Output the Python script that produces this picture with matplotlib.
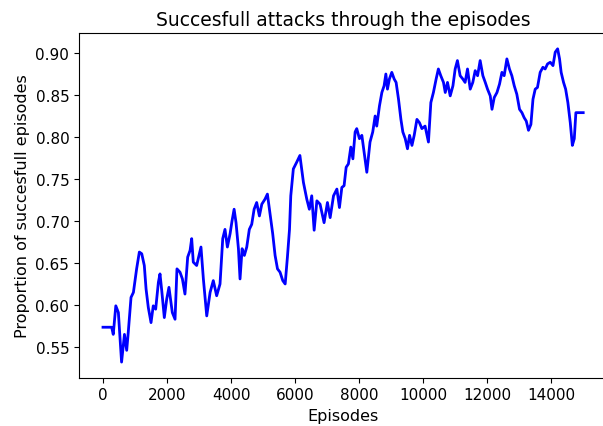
import matplotlib
matplotlib.use("Agg")
import matplotlib.pyplot as plt

# episode positions and rolling success rate
episodes = [0, 270, 320, 400, 480, 580, 670, 740, 790, 875, 950, 1050, 1135, 1210,
            1290, 1345, 1415, 1500, 1570, 1645, 1730, 1780, 1835, 1915, 1990, 2060,
            2165, 2250, 2310, 2405, 2480, 2560, 2645, 2720, 2770, 2820, 2925, 3000,
            3060, 3135, 3240, 3345, 3445, 3550, 3655, 3740, 3810, 3885, 3970, 4030,
            4095, 4155, 4230, 4280, 4345, 4415, 4490, 4570, 4645, 4720, 4800, 4885,
            4960, 5060, 5135, 5220, 5300, 5375, 5450, 5530, 5615, 5690, 5760, 5825,
            5865, 5945, 6050, 6150, 6260, 6365, 6445, 6520, 6595, 6680, 6780, 6905,
            7010, 7095, 7200, 7305, 7385, 7460, 7530, 7595, 7665, 7740, 7805, 7875,
            7925, 8010, 8085, 8155, 8240, 8340, 8425, 8500, 8550, 8635, 8710, 8780,
            8835, 8885, 8945, 9020, 9095, 9155, 9230, 9305, 9365, 9440, 9510, 9575,
            9650, 9720, 9805, 9885, 9960, 10060, 10165, 10240, 10320, 10405, 10475,
            10550, 10635, 10690, 10760, 10845, 10930, 11000, 11070, 11155, 11240,
            11310, 11385, 11470, 11550, 11625, 11700, 11780, 11865, 11940, 12010,
            12095, 12150, 12220, 12305, 12385, 12460, 12530, 12615, 12695, 12770,
            12845, 12925, 13010, 13085, 13155, 13220, 13290, 13365, 13430, 13500,
            13570, 13655, 13740, 13810, 13885, 13970, 14055, 14125, 14200, 14260,
            14310, 14385, 14450, 14520, 14595, 14660, 14720, 14770, 14999]

success = [0.5735, 0.5735, 0.565, 0.599, 0.591, 0.532, 0.565, 0.546, 0.568, 0.609,
           0.615, 0.643, 0.663, 0.661, 0.647, 0.619, 0.597, 0.579, 0.599, 0.595,
           0.627, 0.637, 0.617, 0.585, 0.607, 0.621, 0.591, 0.583, 0.643, 0.639,
           0.631, 0.613, 0.657, 0.665, 0.679, 0.651, 0.647, 0.659, 0.669, 0.631,
           0.587, 0.615, 0.629, 0.611, 0.625, 0.679, 0.690, 0.669, 0.685, 0.700,
           0.714, 0.698, 0.667, 0.631, 0.667, 0.659, 0.669, 0.690, 0.696, 0.714,
           0.722, 0.706, 0.720, 0.726, 0.732, 0.708, 0.685, 0.659, 0.643, 0.639,
           0.629, 0.625, 0.657, 0.690, 0.730, 0.762, 0.770, 0.778, 0.746, 0.726,
           0.714, 0.730, 0.689, 0.724, 0.720, 0.698, 0.722, 0.704, 0.730, 0.738,
           0.716, 0.740, 0.742, 0.764, 0.768, 0.788, 0.774, 0.806, 0.810, 0.798,
           0.802, 0.782, 0.758, 0.794, 0.806, 0.825, 0.813, 0.837, 0.853, 0.861,
           0.875, 0.857, 0.869, 0.877, 0.869, 0.865, 0.845, 0.821, 0.806, 0.798,
           0.786, 0.802, 0.790, 0.802, 0.821, 0.817, 0.810, 0.813, 0.794, 0.841,
           0.853, 0.869, 0.881, 0.873, 0.865, 0.853, 0.865, 0.849, 0.861, 0.881,
           0.891, 0.873, 0.869, 0.865, 0.881, 0.857, 0.865, 0.879, 0.873, 0.891,
           0.873, 0.865, 0.857, 0.849, 0.833, 0.847, 0.853, 0.863, 0.877, 0.873,
           0.893, 0.881, 0.873, 0.861, 0.851, 0.833, 0.829, 0.823, 0.819, 0.808,
           0.815, 0.845, 0.857, 0.859, 0.877, 0.883, 0.881, 0.887, 0.889, 0.885,
           0.901, 0.905, 0.893, 0.877, 0.865, 0.857, 0.841, 0.817, 0.790, 0.798,
           0.829, 0.829]

fig = plt.figure(figsize=(6.03, 4.27), dpi=100)
ax = fig.add_axes([0.131, 0.113, 0.876, 0.807])

ax.plot(episodes, success, color="blue", linewidth=2.0)
ax.set_title("Succesfull attacks through the episodes", fontsize=13.5)
ax.set_xlabel("Episodes", fontsize=11.5)
ax.set_ylabel("Proportion of succesfull episodes", fontsize=11.5)
ax.tick_params(labelsize=11)

fig.savefig("out.png", dpi=100)
